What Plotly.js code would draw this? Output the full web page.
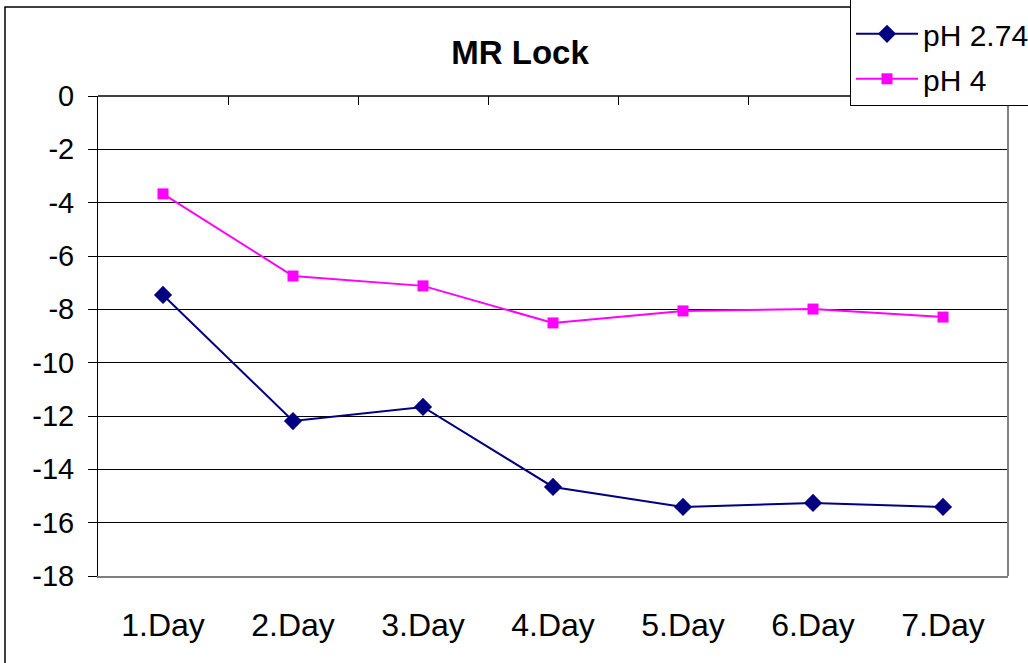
<!DOCTYPE html>
<html>
<head>
<meta charset="utf-8">
<script src="https://cdn.plot.ly/plotly-3.0.1.min.js"></script>
<style>html,body{margin:0;padding:0;background:#fff;}#chart{width:1028px;height:663px;}</style>
</head>
<body>
<div id="chart"></div>
<script>
var days = ["1.Day", "2.Day", "3.Day", "4.Day", "5.Day", "6.Day", "7.Day"];
var ph274 = [-7.46, -12.19, -11.66, -14.66, -15.41, -15.26, -15.41];
var ph4 = [-3.67, -6.75, -7.12, -8.51, -8.06, -7.99, -8.29];
var yTicks = [0, -2, -4, -6, -8, -10, -12, -14, -16, -18];

var font = "Liberation Sans, Arial, sans-serif";
var L = 98, R = 20, T = 96, B = 87, W = 1028, H = 663;
var pw = W - L - R, ph = H - T - B;
function px(x) { return (x - L) / pw; }
function py(y) { return (H - B - y) / ph; }

var traces = [
  {x: days, y: ph274, name: "pH 2.74", type: "scatter", mode: "lines+markers", legendgroup: "a",
   line: {color: "#000080", width: 2}, marker: {symbol: "diamond", size: 14, color: "#000080"}},
  {x: days, y: ph4, name: "pH 4", type: "scatter", mode: "lines+markers", legendgroup: "b",
   line: {color: "#FF00FF", width: 2}, marker: {symbol: "square", size: 11, color: "#FF00FF"}},
  {x: days, y: ph4, xaxis: "x2", type: "scatter", mode: "lines", opacity: 0,
   showlegend: false, hoverinfo: "skip"}
];

var layout = {
  width: W, height: H,
  margin: {l: L, r: R, t: T, b: B, pad: 0, autoexpand: false},
  paper_bgcolor: "#fff", plot_bgcolor: "#fff",
  font: {family: font, color: "#000"},
  title: {text: "<b>MR Lock</b>", font: {family: font, size: 33, color: "#000"},
          x: px(520), xref: "paper", xanchor: "center", y: 1 - 52 / H, yref: "container", yanchor: "middle"},
  showlegend: true,
  legend: {x: px(850), xanchor: "left", y: py(-1), yanchor: "top",
           bordercolor: "#000", borderwidth: 1, bgcolor: "#fff", traceorder: "grouped",
           title: {text: " ", font: {size: 6}},
           font: {family: font, size: 30, color: "#000"}, tracegroupgap: 3, itemwidth: 62},
  xaxis: {type: "category", categoryarray: days, range: [-0.5, 6.5], showgrid: false,
          showline: true, linecolor: "#808080", linewidth: 2, ticks: "", zeroline: false,
          tickfont: {family: font, size: 32, color: "#000"}, ticklabelstandoff: 20, fixedrange: true},
  xaxis2: {type: "category", categoryarray: days, range: [-0.5, 6.5], overlaying: "x", side: "top",
           showgrid: false, showline: false, showticklabels: false, ticks: "inside", tickson: "boundaries",
           ticklen: 9, tickcolor: "#000", tickwidth: 1, zeroline: false},
  yaxis: {range: [-18, 0], tickvals: yTicks, ticktext: yTicks.map(String), showgrid: true,
          gridcolor: "#000", gridwidth: 1, zeroline: false, showline: true, linecolor: "#000", linewidth: 1,
          ticks: "outside", ticklen: 9, tickcolor: "#000", tickwidth: 1,
          tickfont: {family: font, size: 29, color: "#000"}, ticklabelstandoff: 8},
  shapes: [
    {type: "line", xref: "paper", yref: "paper", x0: 1, x1: 1, y0: 0, y1: 1, line: {color: "#808080", width: 2}},
    {type: "line", xref: "paper", yref: "paper", x0: 0, x1: 1, y0: 1, y1: 1, line: {color: "#000", width: 1.5}},
    {type: "rect", xref: "paper", yref: "paper", x0: px(5), x1: px(1040), y0: py(680), y1: py(7),
     line: {color: "#000", width: 1.5}, layer: "below"}
  ]
};

Plotly.newPlot("chart", traces, layout, {displayModeBar: false, staticPlot: true});
</script>
</body>
</html>
